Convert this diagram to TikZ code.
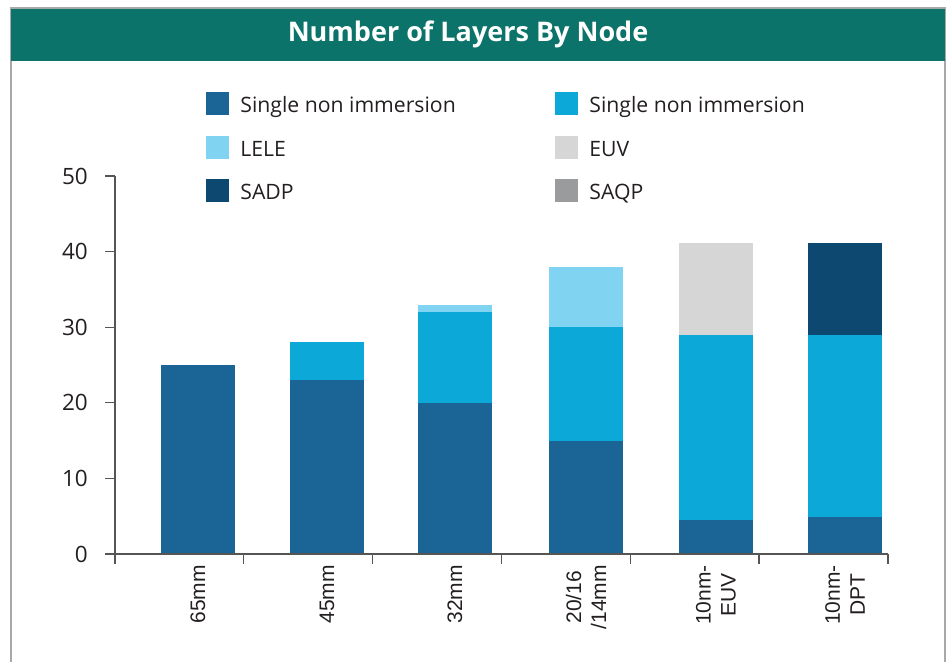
\documentclass[tikz,border=0pt]{standalone}
\usepackage{fontspec}
\setmainfont{Open Sans}
\newfontfamily\catfont{Liberation Sans}
\usetikzlibrary{positioning}
\definecolor{titleteal}{HTML}{0B7369}
\definecolor{framegray}{HTML}{A8A8A8}
\definecolor{axisgray}{HTML}{555555}
\definecolor{singledark}{HTML}{1A6496}
\definecolor{singlemid}{HTML}{0BA8D8}
\definecolor{lele}{HTML}{80D3F1}
\definecolor{euv}{HTML}{D6D6D6}
\definecolor{sadp}{HTML}{0C4870}
\definecolor{saqp}{HTML}{999B9D}
\definecolor{textgray}{HTML}{231F20}
\tikzset{
  titletext/.style={text=white, font=\bfseries\fontsize{27}{30}\selectfont},
  legendbox/.style={minimum size=23pt, inner sep=0pt},
  legendtext/.style={anchor=west, yshift=-3.5pt, text height=16pt, text depth=5pt, text=textgray, font=\fontsize{21.2}{24}\selectfont, inner sep=0pt},
  ticklabel/.style={anchor=east, text=textgray, font=\fontsize{22.5}{25}\selectfont, inner sep=0pt},
  catlabel/.style={rotate=90, anchor=east, align=center, inner sep=0pt, text=textgray, font=\catfont\fontsize{21}{25}\selectfont},
  axisline/.style={axisgray, line width=1.2pt}
}
\begin{document}
\begin{tikzpicture}[x=1pt,y=-1pt]
\useasboundingbox (0,0) rectangle (950,662);

% frame and title bar
\draw[framegray, line width=1.5pt] (11,662) -- (11,8) -- (945,8) -- (945,662);
\fill[titleteal] (11,9) rectangle (945,61);
\node[titletext] (title) at (468,34) {Number of Layers By Node};

% legend
\node[legendbox, fill=singledark] (lgdark) at (217.5,103.5) {};
\node[legendtext, right=11pt of lgdark] (lgdarktxt) {Single non immersion};
\node[legendbox, fill=singlemid] (lgmid) at (566.5,103.5) {};
\node[legendtext, right=11pt of lgmid] (lgmidtxt) {Single non immersion};
\node[legendbox, fill=lele] (lglele) at (217.5,147.5) {};
\node[legendtext, right=11pt of lglele] (lgleletxt) {LELE};
\node[legendbox, fill=euv] (lgeuv) at (566.5,147.5) {};
\node[legendtext, right=11pt of lgeuv] (lgeuvtxt) {EUV};
\node[legendbox, fill=sadp] (lgsadp) at (217.5,190.5) {};
\node[legendtext, right=11pt of lgsadp] (lgsadptxt) {SADP};
\node[legendbox, fill=saqp] (lgsaqp) at (566.5,190.5) {};
\node[legendtext, right=11pt of lgsaqp] (lgsaqptxt) {SAQP};

% bars, y in number of layers
\begin{scope}[shift={(0,554)}, y=7.56pt]
% 65mm
\fill[singledark] (161,0) rectangle (235,25);
% 45mm
\fill[singledark] (290,0) rectangle (364,23);
\fill[singlemid] (290,23) rectangle (364,28);
% 32mm
\fill[singledark] (418,0) rectangle (492,20);
\fill[singlemid] (418,20) rectangle (492,32);
\fill[lele] (418,32) rectangle (492,33);
% 20/16/14mm
\fill[singledark] (549,0) rectangle (623,15);
\fill[singlemid] (549,15) rectangle (623,30);
\fill[lele] (549,30) rectangle (623,38);
% 10nm-EUV
\fill[singledark] (679,0) rectangle (753,4.5);
\fill[singlemid] (679,4.5) rectangle (753,29);
\fill[euv] (679,29) rectangle (753,41.1);
% 10nm-DPT
\fill[singledark] (808,0) rectangle (882,4.9);
\fill[singlemid] (808,4.9) rectangle (882,29);
\fill[sadp] (808,29) rectangle (882,41.1);

% y axis
\draw[axisline] (115,0) -- (115,50);
\foreach \v in {0,10,...,50} {
  \draw[axisline] (105,\v) -- (115,\v);
  \node[ticklabel] (tick\v) at (88,\v) {\v};
}
\end{scope}

% x axis
\draw[axisline] (105,554) -- (888,554);
\foreach \t in {115,243.8,372.6,501.4,630.2,759,888}
  \draw[axisline] (\t,554) -- (\t,564);

% category labels
\node[catlabel] (c65) at (198,565) {65mm};
\node[catlabel] (c45) at (327,565) {45mm};
\node[catlabel] (c32) at (455,565) {32mm};
\node[catlabel] (c20) at (586,565) {20/16\\/14mm};
\node[catlabel] (c10euv) at (716,565) {10nm-\\EUV};
\node[catlabel] (c10dpt) at (845,565) {10nm-\\DPT};

\end{tikzpicture}
\end{document}
